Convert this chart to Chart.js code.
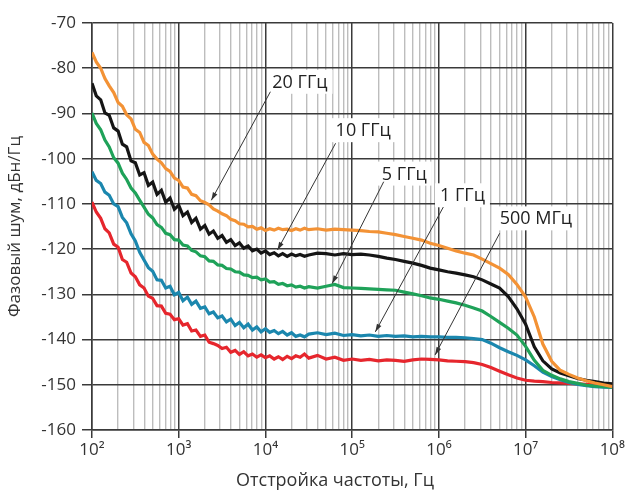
<!DOCTYPE html>
<html>
<head>
<meta charset="utf-8">
<script src="https://cdn.jsdelivr.net/npm/chart.js@4.4.1/dist/chart.umd.min.js"></script>
<style>
  html, body { margin: 0; background: #fff; }
</style>
</head>
<body>
<canvas id="chart" width="627" height="490"></canvas>
<script>
// offset frequency, Hz
const freqs = [
  100, 112, 126, 141, 158, 178, 200, 224, 251, 282,
  316, 355, 398, 447, 501, 562, 631, 708, 794, 891,
  1000, 1120, 1260, 1410, 1580, 1780, 2000, 2240, 2510, 2820,
  3160, 3550, 3980, 4470, 5010, 5620, 6310, 7080, 7940, 8910,
  10000, 11200, 12600, 14100, 15800, 17800, 20000, 22400, 25100, 28200,
  31600,
  39800, 50100, 63100, 79400,
  1e5, 1.26e5, 1.58e5, 2e5, 2.51e5, 3.16e5, 3.98e5, 5.01e5, 6.31e5, 7.94e5,
  1e6, 1.26e6, 1.58e6, 2e6, 2.51e6, 3.16e6, 3.98e6, 5.01e6, 6.31e6, 7.94e6,
  1e7, 1.26e7, 1.58e7, 2e7, 2.51e7, 3.16e7, 3.98e7, 5.01e7, 6.31e7, 7.94e7,
  1e8
];

// phase noise, dBc/Hz
const noise20G = [
  -76.5, -78.6, -80.0, -82.3, -83.9, -85.4, -87.6, -88.4, -90.3, -91.2,
  -93.5, -94.2, -96.4, -97.1, -99.0, -100.1, -100.9, -102.2, -102.8, -104.3,
  -104.8, -106.3, -106.5, -107.9, -108.2, -109.3, -109.7, -110.2, -111.1, -111.6,
  -112.2, -112.6, -113.4, -113.7, -114.4, -114.5, -115.1, -115.0, -115.6, -115.3,
  -115.9, -115.5, -115.8, -115.4, -115.7, -115.6, -115.9, -115.5, -115.8, -115.4,
  -115.7,
  -115.5, -115.8, -115.6, -115.7,
  -115.8, -115.9, -116.1, -116.2, -116.5, -116.8, -117.2, -117.6, -118.0, -118.7,
  -119.2, -119.8, -120.4, -120.9, -121.3, -122.2, -123.2, -124.2, -125.6, -127.8,
  -130.6, -135.0, -141.0, -144.8, -146.8, -147.7, -148.5, -149.1, -149.6, -150.0,
  -150.4
];
const noise10G = [
  -83.3, -86.1, -87.0, -89.9, -90.4, -93.2, -93.9, -96.8, -97.4, -100.5,
  -100.9, -103.6, -103.1, -105.9, -105.2, -107.9, -107.0, -109.6, -108.7, -111.2,
  -110.3, -112.6, -111.8, -114.1, -113.2, -115.6, -114.8, -116.7, -116.0, -117.6,
  -117.0, -118.5, -117.9, -119.2, -118.6, -119.8, -119.3, -120.4, -120.0, -120.9,
  -120.4, -121.2, -120.8, -121.5, -121.0, -121.6, -121.1, -121.5, -121.2, -121.6,
  -121.3,
  -120.9, -121.0, -121.3, -121.0,
  -121.2, -121.1, -121.3, -121.6, -122.0, -122.3, -122.7, -123.1, -123.6, -124.2,
  -124.6, -125.0, -125.3, -125.7, -126.1, -126.8, -127.7, -128.6, -130.5, -133.2,
  -136.6, -141.6, -144.7, -146.5, -147.4, -148.0, -148.6, -149.0, -149.3, -149.6,
  -149.8
];
const noise5G = [
  -89.9, -92.2, -93.6, -95.9, -97.4, -99.8, -101.0, -103.2, -104.6, -106.5,
  -107.6, -109.2, -110.7, -112.3, -113.1, -114.6, -115.2, -116.5, -116.8, -117.9,
  -118.0, -119.1, -119.3, -120.3, -120.6, -121.5, -121.7, -122.6, -122.7, -123.5,
  -123.6, -124.3, -124.4, -125.0, -125.1, -125.7, -125.8, -126.3, -126.2, -126.8,
  -126.6, -127.3, -127.2, -127.8, -127.6, -128.1, -127.9, -128.4, -128.2, -128.6,
  -128.3,
  -128.6, -128.2, -127.8, -128.5,
  -128.6, -128.7, -128.8, -128.9, -129.0, -129.1, -129.5, -129.9, -130.3, -130.8,
  -131.1, -131.5, -131.9, -132.4, -133.0, -133.7, -134.9, -136.2, -137.5, -139.0,
  -141.5, -144.6, -146.8, -147.9, -148.7, -149.3, -149.7, -150.1, -150.3, -150.4,
  -150.5
];
const noise1G = [
  -102.9, -104.8, -105.5, -107.4, -108.1, -110.0, -110.6, -113.0, -114.2, -116.6,
  -118.2, -120.7, -122.4, -124.1, -124.9, -126.8, -126.9, -128.6, -128.2, -130.1,
  -129.6, -131.4, -130.6, -132.2, -131.5, -133.1, -132.8, -134.3, -133.9, -135.2,
  -134.8, -136.1, -135.5, -136.9, -136.2, -137.4, -136.6, -137.9, -137.2, -138.3,
  -137.6, -138.4, -138.0, -138.7, -138.2, -139.0, -138.5, -139.3, -139.0, -139.4,
  -138.8,
  -138.5, -138.9, -138.6, -139.1,
  -138.9, -139.2, -139.0, -139.3, -139.1, -139.3, -139.2, -139.4, -139.3, -139.4,
  -139.4, -139.5, -139.5, -139.6, -139.8, -140.0, -140.8, -141.8, -142.7, -143.5,
  -144.5, -145.8, -147.2, -148.2, -148.9, -149.5, -149.9, -150.2, -150.4, -150.5,
  -150.6
];
const noise500M = [
  -109.6, -111.8, -113.2, -115.5, -116.4, -118.9, -119.6, -122.3, -122.9, -125.3,
  -126.1, -127.9, -128.6, -130.4, -130.9, -132.5, -132.6, -134.2, -134.4, -135.6,
  -135.4, -136.8, -136.5, -138.1, -137.9, -139.3, -139.0, -140.6, -140.9, -141.3,
  -142.0, -141.7, -142.8, -142.4, -143.3, -142.7, -143.6, -143.2, -143.9, -143.4,
  -144.0, -143.6, -144.3, -143.8, -144.4, -143.7, -144.2, -143.6, -143.9, -143.2,
  -144.1,
  -143.5, -144.3, -143.9, -144.6,
  -144.3, -144.6, -144.4, -144.7, -144.5, -144.6, -144.8, -144.5, -144.3, -144.4,
  -144.5, -144.7, -144.8, -144.9, -145.1, -145.5, -146.2, -147.0, -147.8, -148.5,
  -149.0, -149.2, -149.3, -149.5, -149.6, -149.7, -149.8, -149.9, -150.0, -150.1,
  -150.2
];

const seriesNames = ['20 ГГц', '10 ГГц', '5 ГГц', '1 ГГц', '500 МГц'];
const seriesData = [noise20G, noise10G, noise5G, noise1G, noise500M];
const seriesColors = ['#f39235', '#151515', '#1fa259', '#1b87ae', '#e6262d'];

const decades = [1e2, 1e3, 1e4, 1e5, 1e6, 1e7, 1e8];
const decadeLabels = ['10²', '10³', '10⁴', '10⁵', '10⁶', '10⁷', '10⁸'];

const xTitle = 'Отстройка частоты, Гц';
const yTitle = 'Фазовый шум, дБн/Гц';

// callouts: label position, arrow start and arrow tip in data units
const callouts = [
  { text: '20 ГГц', at: [1.2e4, -83.0], from: [1.14e4, -85.2], to: [2377, -109.2] },
  { text: '10 ГГц', at: [6.44e4, -93.7], from: [6.44e4, -96.6], to: [1.377e4, -120.2] },
  { text: '5 ГГц', at: [2.2e5, -103.3], from: [2.31e5, -105.1], to: [5.89e4, -127.6] },
  { text: '1 ГГц', at: [1.03e6, -108.1], from: [1.125e6, -110.7], to: [1.85e5, -138.3] },
  { text: '500 МГц', at: [5.02e6, -113.2], from: [5.02e6, -116.5], to: [9.04e5, -143.4] }
];

const FONT = "'Open Sans', sans-serif";
const isDecade = v => decades.indexOf(v) >= 0;

const calloutPlugin = {
  id: 'callouts',
  afterDatasetsDraw(chart) {
    const ctx = chart.ctx;
    const xs = chart.scales.x, ys = chart.scales.y;
    ctx.save();
    ctx.font = '18px ' + FONT;
    callouts.forEach(c => {
      const tx = xs.getPixelForValue(c.at[0]);
      const ty = ys.getPixelForValue(c.at[1]);
      const w = ctx.measureText(c.text).width;
      ctx.fillStyle = '#fff';
      ctx.fillRect(tx - 5, ty - 12, w + 10, 24);

      const x1 = xs.getPixelForValue(c.from[0]), y1 = ys.getPixelForValue(c.from[1]);
      const x2 = xs.getPixelForValue(c.to[0]), y2 = ys.getPixelForValue(c.to[1]);
      ctx.strokeStyle = '#333';
      ctx.lineWidth = 1;
      ctx.beginPath();
      ctx.moveTo(x1, y1);
      ctx.lineTo(x2, y2);
      ctx.stroke();
      // arrow head
      const a = Math.atan2(y2 - y1, x2 - x1);
      ctx.fillStyle = '#333';
      ctx.beginPath();
      ctx.moveTo(x2, y2);
      ctx.lineTo(x2 - 8 * Math.cos(a) + 2.5 * Math.sin(a), y2 - 8 * Math.sin(a) - 2.5 * Math.cos(a));
      ctx.lineTo(x2 - 8 * Math.cos(a) - 2.5 * Math.sin(a), y2 - 8 * Math.sin(a) + 2.5 * Math.cos(a));
      ctx.closePath();
      ctx.fill();

      ctx.fillStyle = '#222';
      ctx.textAlign = 'left';
      ctx.textBaseline = 'middle';
      ctx.fillText(c.text, tx, ty + 1);
    });

    // x axis title sits a little left of the plot centre in the original
    ctx.font = '18px ' + FONT;
    ctx.fillStyle = '#333';
    ctx.textAlign = 'center';
    ctx.textBaseline = 'alphabetic';
    ctx.fillText(xTitle, 335, 486);
    ctx.restore();
  }
};

new Chart(document.getElementById('chart'), {
  type: 'line',
  data: {
    datasets: seriesNames.map((name, i) => ({
      label: name,
      data: freqs.map((f, k) => ({ x: f, y: seriesData[i][k] })),
      borderColor: seriesColors[i],
      borderWidth: 3.2,
      pointRadius: 0,
      tension: 0,
      fill: false
    }))
  },
  options: {
    responsive: false,
    animation: false,
    layout: { padding: { top: 23, right: 12, left: 0, bottom: 0 } },
    plugins: {
      legend: { display: false },
      tooltip: { enabled: false }
    },
    scales: {
      x: {
        type: 'logarithmic',
        min: 1e2,
        max: 1e8,
        afterBuildTicks: scale => {
          const t = [];
          decades.forEach((d, i) => {
            t.push({ value: d });
            if (i < decades.length - 1) {
              for (let m = 2; m <= 9; m++) t.push({ value: d * m });
            }
          });
          scale.ticks = t;
        },
        afterFit: scale => { scale.height = 60; },
        ticks: {
          autoSkip: false,
          maxRotation: 0,
          padding: 2,
          color: '#333',
          font: { family: FONT, size: 17 },
          callback: v => isDecade(v) ? decadeLabels[decades.indexOf(v)] : ''
        },
        grid: {
          color: c => (c.tick && isDecade(c.tick.value)) ? '#3a3a3a' : '#bdbdbd',
          lineWidth: c => (c.tick && isDecade(c.tick.value)) ? 1.5 : 1.4,
          tickColor: c => (c.tick && isDecade(c.tick.value)) ? '#3a3a3a' : 'rgba(0,0,0,0)',
          tickLength: 8
        },
        border: { color: '#3a3a3a', width: 1.5 },
        title: { display: false }
      },
      y: {
        min: -160,
        max: -70,
        afterFit: scale => { scale.width = 92; },
        ticks: {
          stepSize: 10,
          padding: 6,
          color: '#333',
          font: { family: FONT, size: 17 }
        },
        grid: {
          color: '#3a3a3a',
          lineWidth: 1.5,
          tickLength: 10
        },
        border: { color: '#3a3a3a', width: 1.5 },
        title: {
          display: true,
          text: yTitle,
          color: '#333',
          font: { family: FONT, size: 17 },
          padding: { top: 5, bottom: 0 }
        }
      }
    }
  },
  plugins: [calloutPlugin]
});
</script>
</body>
</html>
